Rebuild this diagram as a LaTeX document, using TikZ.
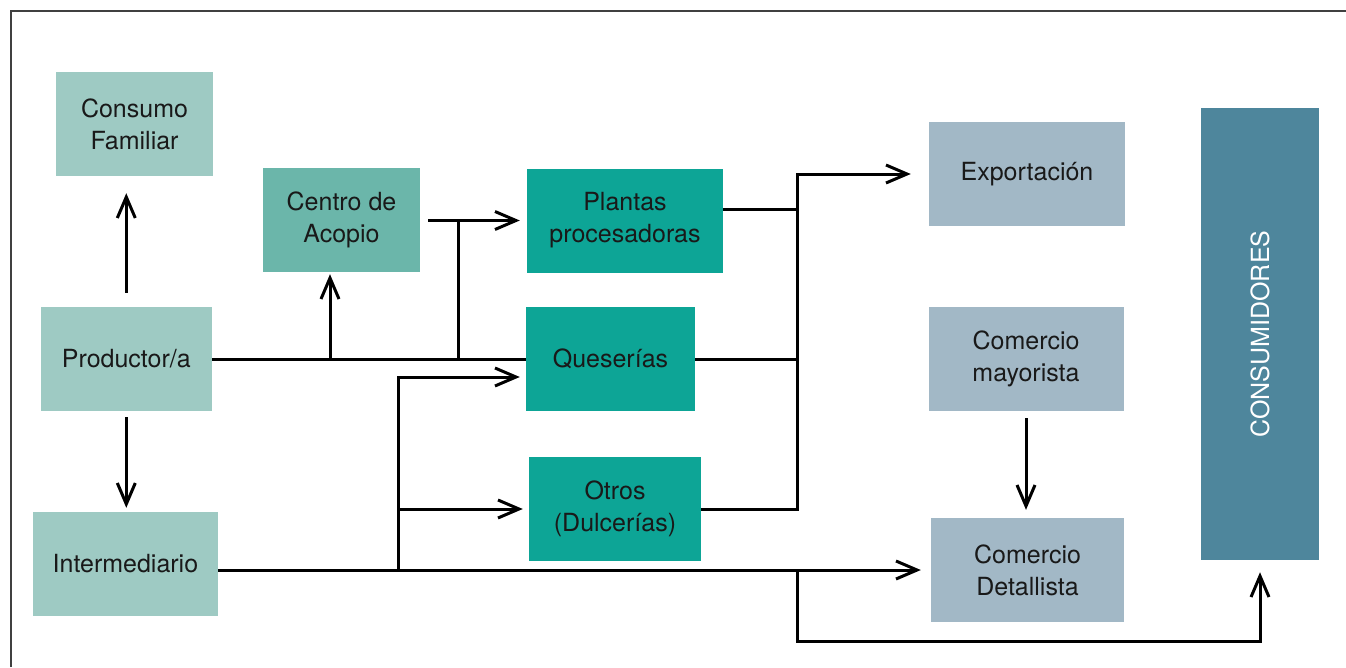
\documentclass[tikz,border=0pt]{standalone}
\usepackage{fontspec}
\setmainfont{TeX Gyre Heros}
\usetikzlibrary{arrows.meta}
\definecolor{tealclaro}{HTML}{9ECAC3}
\definecolor{tealmedio}{HTML}{6BB6AA}
\definecolor{tealoscuro}{HTML}{0DA596}
\definecolor{grisazul}{HTML}{A2B8C6}
\definecolor{azulcons}{HTML}{4E869C}
\begin{document}
\begin{tikzpicture}[x=1pt,y=-1pt,
    caja/.style={inner sep=0pt,align=center,minimum height=104,text=black!90,
        font=\fontsize{25}{32}\selectfont},
    linea/.style={line width=3pt},
    flecha/.style={linea,-{Straight Barb[length=21pt,width=18pt,line width=3pt]}}]
        \useasboundingbox (0,0) rectangle (1346,667);
        %% marco
        \draw[line width=1.8pt,black!75] (11,667) -- (11,11) -- (1346,11);
        %% cajas de la izquierda
        \node[caja,fill=tealclaro,minimum width=157] (cf) at (134.5,124) {Consumo\\Familiar};
        \node[caja,fill=tealclaro,minimum width=171] (prod) at (126.3,359) {Productor/a};
        \node[caja,fill=tealclaro,minimum width=185] (inter) at (125.4,564) {Intermediario};
        \node[caja,fill=tealmedio,minimum width=157] (ca) at (341.5,220) {Centro de\\Acopio};
        %% industria
        \node[caja,fill=tealoscuro,minimum width=196] (pp) at (625,220.5) {Plantas\\procesadoras};
        \node[caja,fill=tealoscuro,minimum width=169] (qs) at (610.5,359) {Queserías};
        \node[caja,fill=tealoscuro,minimum width=172] (ot) at (615,509) {Otros\\(Dulcerías)};
        %% comercio
        \node[caja,fill=grisazul,minimum width=196] (exp) at (1027,174) {Exportación};
        \node[caja,fill=grisazul,minimum width=195] (cmay) at (1026,359) {Comercio\\mayorista};
        \node[caja,fill=grisazul,minimum width=193] (cdet) at (1027.5,570) {Comercio\\Detallista};
        \node[caja,fill=azulcons,minimum width=118,minimum height=452,text=white] (cons) at (1260,334) {\rotatebox{90}{CONSUMIDORES}};
        %% desde Productor/a
        \draw[flecha,shorten <=14pt,shorten >=17pt] (prod.north) -- (prod.north |- cf.south);
        \draw[flecha,shorten <=6pt,shorten >=4pt] (prod.south) -- (prod.south |- inter.north);
        \draw[linea] (prod.east) -- (qs.west);
        \coordinate (j1) at (330,359);
        \draw[flecha,shorten >=2pt] (j1) -- (j1 |- ca.south);
        \coordinate (j2) at (458,359);
        \draw[linea] (j2) -- (j2 |- pp.west);
        \draw[flecha,shorten <=8pt,shorten >=7pt] (ca.east |- pp.west) -- (pp.west);
        %% desde Intermediario
        \draw[flecha,shorten >=10pt] (inter.east |- cdet.west) -- (cdet.west);
        \coordinate (j3) at (398,570);
        \coordinate (q1) at (398,377);
        \coordinate (q2) at (398,509);
        \draw[flecha,shorten >=6pt] (j3) -- (q1) -- (q1 -| qs.west);
        \draw[flecha,shorten >=6pt] (q2) -- (q2 -| ot.west);
        %% hacia Exportación
        \coordinate (c1) at (797,209);
        \draw[linea] (pp.east |- c1) -- (c1);
        \draw[linea] (qs.east) -- (qs.east -| c1);
        \draw[flecha,shorten >=18pt] (ot.east) -- (ot.east -| c1) -- (c1 |- exp.west) -- (exp.west);
        %% hacia Consumidores
        \coordinate (c2) at (797,641);
        \draw[flecha,shorten >=12pt] (c2 |- cdet.west) -- (c2) -- (c2 -| cons.south) -- (cons.south);
        \draw[flecha,shorten <=7pt,shorten >=8pt] (cmay.south) -- (cmay.south |- cdet.north);
\end{tikzpicture}
\end{document}
